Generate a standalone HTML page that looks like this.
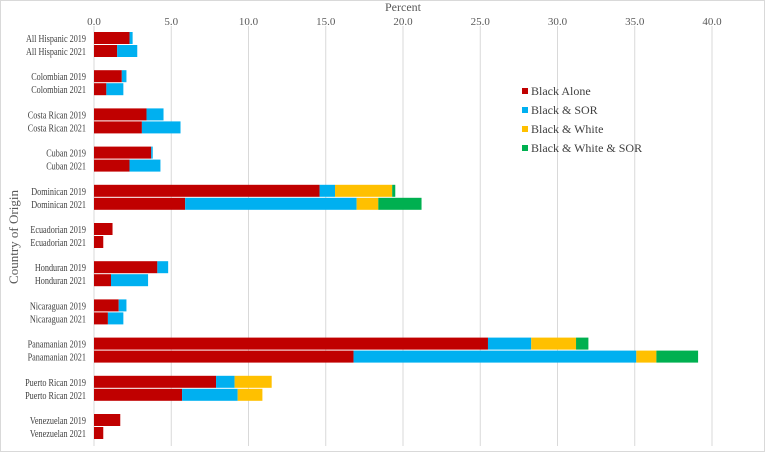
<!DOCTYPE html>
<html><head><meta charset="utf-8"><style>
body{margin:0;background:#fff}
svg{display:block;font-family:"Liberation Serif",serif}
</style></head><body>
<svg id="chart" width="765" height="452">
<rect x="0.5" y="0.5" width="764" height="451" fill="#fff" stroke="#d9d9d9"/>
<g id="grid"></g><g id="bars"></g><g id="labels"></g>
<g id="catlabels" transform="translate(86,0) scale(0.82,1)"></g>
<text x="403" y="11" font-size="12" fill="#595959" text-anchor="middle">Percent</text>
<text transform="translate(18,237) rotate(-90)" font-size="13" fill="#595959" text-anchor="middle">Country of Origin</text>
<g id="legend"></g>
</svg>
<script>
const categories=["All Hispanic 2019","All Hispanic 2021","Colombian 2019","Colombian 2021","Costa Rican 2019","Costa Rican 2021","Cuban 2019","Cuban 2021","Dominican 2019","Dominican 2021","Ecuadorian 2019","Ecuadorian 2021","Honduran 2019","Honduran 2021","Nicaraguan 2019","Nicaraguan 2021","Panamanian 2019","Panamanian 2021","Puerto Rican 2019","Puerto Rican 2021","Venezuelan 2019","Venezuelan 2021"];
const blackAlone=[2.3,1.5,1.8,0.8,3.4,3.1,3.7,2.3,14.6,5.9,1.2,0.6,4.1,1.1,1.6,0.9,25.5,16.8,7.9,5.7,1.7,0.6];
const blackSOR=[0.2,1.3,0.3,1.1,1.1,2.5,0.1,2.0,1.0,11.1,0,0,0.7,2.4,0.5,1.0,2.8,18.3,1.2,3.6,0,0];
const blackWhite=[0,0,0,0,0,0,0,0,3.7,1.4,0,0,0,0,0,0,2.9,1.3,2.4,1.6,0,0];
const blackWhiteSOR=[0,0,0,0,0,0,0,0,0.2,2.8,0,0,0,0,0,0,0.8,2.7,0,0,0,0];
const ticks=[0,5,10,15,20,25,30,35,40];
const seriesNames=["Black Alone","Black & SOR","Black & White","Black & White & SOR"];
const colors=["#c00000","#00b0f0","#ffc000","#00b050"];
const series=[blackAlone,blackSOR,blackWhite,blackWhiteSOR];
const NS="http://www.w3.org/2000/svg";
const x=v=>94+v*15.45;
const y=i=>32+Math.floor(i/2)*38.2+(i%2)*13;
function mk(tag,attrs,parent){const e=document.createElementNS(NS,tag);for(const k in attrs)e.setAttribute(k,attrs[k]);parent.appendChild(e);return e;}
const grid=document.getElementById('grid'),bars=document.getElementById('bars'),labels=document.getElementById('labels'),legend=document.getElementById('legend'),catlabels=document.getElementById('catlabels');
ticks.forEach(t=>{
  const l=mk('line',{x1:x(t),x2:x(t),y1:26,y2:446,stroke:'#d9d9d9'},grid);
  
  
  const tx=mk('text',{x:x(t),y:25,'font-size':11,fill:'#595959','text-anchor':'middle'},labels);
  tx.textContent=t.toFixed(1);
  
  
});
categories.forEach((c,i)=>{
  let acc=0;
  series.forEach((s,k)=>{
    const v=s[i];
    if(v>0){
      const r=mk('rect',{x:x(acc),y:y(i),width:x(acc+v)-x(acc),height:12,fill:colors[k]},bars);
      
      
    }
    acc+=v;
  });
  const t=mk('text',{x:0,y:y(i)+10,'font-size':10,fill:'#404040','text-anchor':'end'},catlabels);
  t.textContent=c;
  
  
});
seriesNames.forEach((n,k)=>{
  const yy=91+k*19;
  const r=mk('rect',{x:522,y:yy-3,width:6,height:6,fill:colors[k]},legend);
  
  
  const t=mk('text',{x:531,y:yy+4,'font-size':12,fill:'#404040'},legend);
  t.textContent=n;
  
  
});
</script>
</body></html>
